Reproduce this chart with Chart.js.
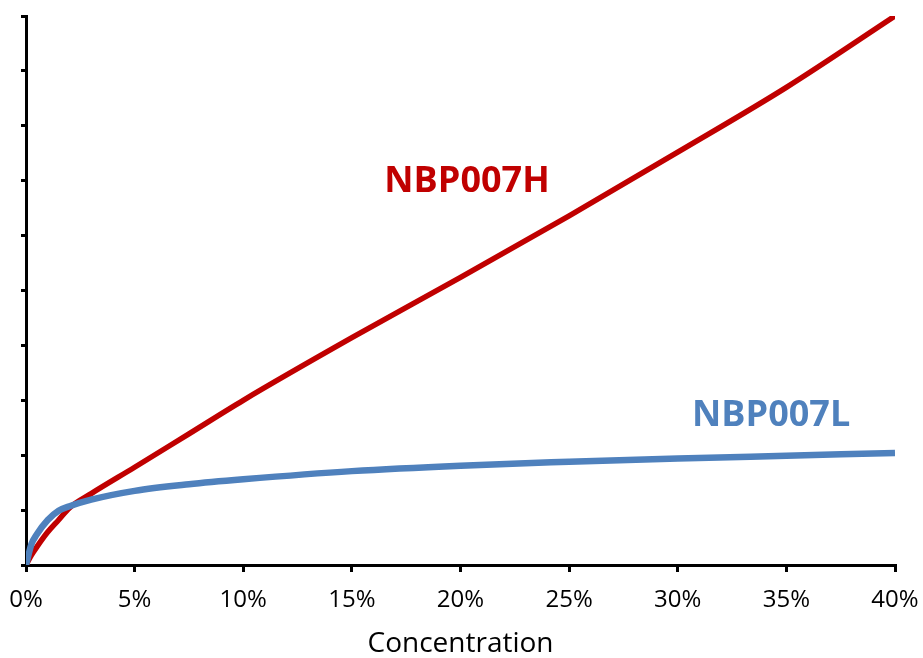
<!DOCTYPE html>
<html>
<head>
<meta charset="utf-8">
<script src="https://cdn.jsdelivr.net/npm/chart.js@4"></script>
<style>
html, body { margin: 0; padding: 0; background: #fff; }
#wrap { width: 923px; height: 658px; }
</style>
</head>
<body>
<div id="wrap"><canvas id="chart"></canvas></div>
<script>
// concentration (%) sampled along both curves
const concentration = [0, 0.25, 0.5, 1, 1.5, 2, 3, 5, 7.5, 10, 15, 20, 25, 30, 35, 40];

// NBP007H (red)
const nbp007h = [0, 0.18, 0.33, 0.6, 0.82, 1.04, 1.3, 1.78, 2.39, 3.0, 4.14, 5.24, 6.36, 7.52, 8.7, 10];

// NBP007L (blue)
const nbp007l = [0, 0.38, 0.56, 0.82, 0.99, 1.07, 1.19, 1.35, 1.47, 1.56, 1.71, 1.81, 1.88, 1.94, 1.99, 2.04];

// series labels drawn in the plot: [text, x (%), y, colour]
const seriesLabels = [
    ["NBP007H", 20.3, 6.98, "#C00000"],
    ["NBP007L", 34.3, 2.71, "#4F81BD"]
];

const xTitle = "Concentration";

function points(ys) {
    return concentration.map((x, i) => ({ x: x, y: ys[i] }));
}

// ===============================
// inline series labels
// ===============================
const labelPlugin = {
    id: "seriesLabels",
    afterDatasetsDraw(chart) {
        const ctx = chart.ctx;
        const xs = chart.scales.x, ys = chart.scales.y;
        ctx.save();
        ctx.font = "bold 36px 'Open Sans'";
        ctx.textAlign = "center";
        ctx.textBaseline = "middle";
        seriesLabels.forEach(l => {
            ctx.fillStyle = l[3];
            ctx.fillText(l[0], xs.getPixelForValue(l[1]), ys.getPixelForValue(l[2]));
        });
        ctx.restore();
    }
};

new Chart(document.getElementById("chart"), {
    type: "scatter",
    data: {
        datasets: [
            {
                label: "NBP007L",
                data: points(nbp007l),
                showLine: true,
                borderColor: "#4F81BD",
                borderWidth: 6.5,
                pointRadius: 0,
                cubicInterpolationMode: "monotone",
                order: 0
            },
            {
                label: "NBP007H",
                data: points(nbp007h),
                showLine: true,
                borderColor: "#C00000",
                borderWidth: 5.5,
                pointRadius: 0,
                cubicInterpolationMode: "monotone",
                order: 1
            }
        ]
    },
    plugins: [labelPlugin],
    options: {
        responsive: true,
        maintainAspectRatio: false,
        animation: false,
        layout: { padding: { top: 16, right: 28, left: 0, bottom: 0 } },
        plugins: {
            legend: { display: false },
            tooltip: { enabled: false }
        },
        scales: {
            x: {
                type: "linear",
                min: 0,
                max: 40,
                afterFit: s => {
                    s.height = 93;
                    s.paddingLeft = 0;
                    s.paddingRight = 0;
                },
                ticks: {
                    stepSize: 5,
                    color: "#000",
                    font: { family: "'Open Sans'", size: 24 },
                    padding: 14,
                    maxRotation: 0,
                    callback: v => v + "%"
                },
                grid: {
                    drawOnChartArea: false,
                    color: "#000",
                    lineWidth: 3,
                    tickLength: 7
                },
                border: { color: "#000", width: 3 },
                title: {
                    display: true,
                    text: xTitle,
                    color: "#000",
                    font: { family: "'Open Sans'", size: 28 },
                    padding: { top: 0, bottom: -3 }
                }
            },
            y: {
                min: 0,
                max: 10,
                afterFit: s => { s.width = 26; },
                ticks: { stepSize: 1, display: false },
                grid: {
                    drawOnChartArea: false,
                    color: "#000",
                    lineWidth: 3,
                    tickLength: 5
                },
                border: { color: "#000", width: 3 }
            }
        }
    }
});
</script>
</body>
</html>
